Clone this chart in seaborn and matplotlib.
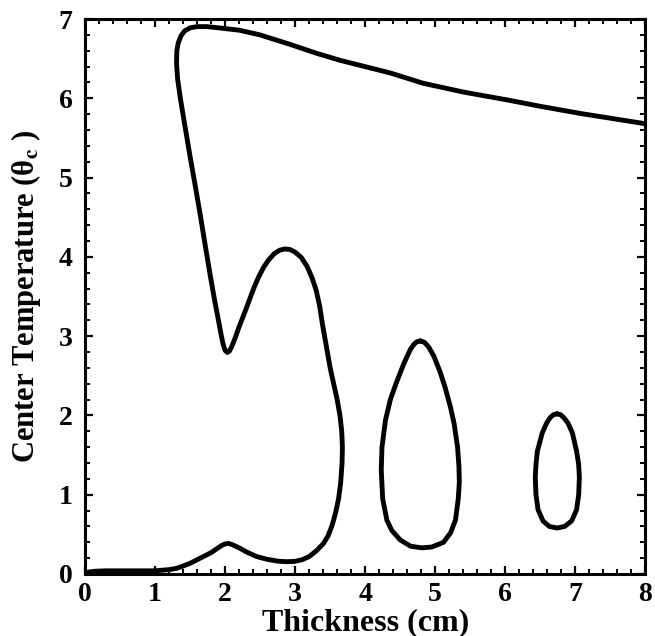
import matplotlib
matplotlib.use("Agg")
import matplotlib.pyplot as plt
from matplotlib.ticker import MultipleLocator
import seaborn as sns
import pandas as pd

# Main S-shaped branch (thickness cm, center temperature)
main_x = [0.0, 0.05, 0.15, 0.3, 0.6, 1.0, 1.2, 1.3, 1.4, 1.5, 1.6, 1.7, 1.8, 1.9, 1.95, 2.0,
          2.05, 2.1, 2.2, 2.3, 2.45, 2.6, 2.75, 2.88, 3.0, 3.1, 3.2, 3.3, 3.4, 3.47, 3.53,
          3.58, 3.62, 3.65, 3.67, 3.675, 3.665, 3.64, 3.6, 3.55, 3.5, 3.44, 3.39, 3.35, 3.3,
          3.24, 3.17, 3.09, 3.0, 2.92, 2.85, 2.78, 2.7, 2.62, 2.55, 2.48, 2.42, 2.36, 2.28,
          2.2, 2.14, 2.09, 2.06, 2.03, 2.0, 1.97, 1.94, 1.9, 1.85, 1.79, 1.72, 1.65, 1.58,
          1.5, 1.42, 1.36, 1.32, 1.305, 1.31, 1.33, 1.37, 1.42, 1.5, 1.6, 1.74, 1.9, 2.2,
          2.5, 2.93, 3.3, 3.64, 4.0, 4.36, 4.83, 5.4, 6.03, 6.5, 7.07, 7.5, 8.0]
main_y = [0.0, 0.025, 0.035, 0.04, 0.04, 0.04, 0.055, 0.07, 0.10, 0.135, 0.18, 0.225, 0.27,
          0.33, 0.36, 0.38, 0.385, 0.37, 0.33, 0.28, 0.22, 0.185, 0.162, 0.155, 0.16, 0.18,
          0.22, 0.29, 0.38, 0.48, 0.62, 0.78, 0.95, 1.15, 1.4, 1.6, 1.8, 2.0, 2.2, 2.4, 2.6,
          2.9, 3.15, 3.38, 3.58, 3.74, 3.88, 3.99, 4.06, 4.095, 4.1, 4.085, 4.04, 3.96, 3.87,
          3.75, 3.63, 3.49, 3.3, 3.12, 2.97, 2.86, 2.81, 2.795, 2.82, 2.9, 3.03, 3.22, 3.45,
          3.75, 4.12, 4.5, 4.86, 5.26, 5.68, 6.0, 6.25, 6.45, 6.6, 6.7, 6.79, 6.85, 6.89,
          6.905, 6.905, 6.89, 6.86, 6.8, 6.68, 6.57, 6.48, 6.40, 6.32, 6.19, 6.08, 5.98,
          5.90, 5.81, 5.75, 5.68]

# Isola near 4.8 cm
loop2_x = [4.79, 4.85, 4.91, 4.98, 5.07, 5.14, 5.22, 5.27, 5.32, 5.34, 5.345, 5.33, 5.29,
           5.22, 5.12, 4.95, 4.81, 4.65, 4.5, 4.38, 4.31, 4.25, 4.23, 4.24, 4.29, 4.36, 4.44,
           4.55, 4.65, 4.7, 4.74, 4.79]
loop2_y = [2.94, 2.92, 2.86, 2.75, 2.55, 2.36, 2.1, 1.9, 1.6, 1.35, 1.15, 0.95, 0.68, 0.52,
           0.40, 0.34, 0.33, 0.35, 0.43, 0.55, 0.68, 0.95, 1.31, 1.6, 1.94, 2.2, 2.4, 2.65,
           2.84, 2.9, 2.93, 2.94]

# Isola near 6.75 cm
loop3_x = [6.74, 6.79, 6.84, 6.9, 6.96, 7.02, 7.05, 7.06, 7.05, 7.02, 6.95, 6.85, 6.74, 6.63,
           6.54, 6.47, 6.44, 6.43, 6.44, 6.46, 6.53, 6.59, 6.64, 6.69, 6.74]
loop3_y = [2.02, 2.01, 1.97, 1.9, 1.78, 1.55, 1.38, 1.22, 1.0, 0.81, 0.67, 0.60, 0.58, 0.60,
           0.67, 0.81, 1.0, 1.22, 1.38, 1.55, 1.78, 1.9, 1.97, 2.01, 2.02]

x_ticks = [0, 1, 2, 3, 4, 5, 6, 7, 8]
y_ticks = [0, 1, 2, 3, 4, 5, 6, 7]

sns.set_style("ticks")
plt.rcParams["font.family"] = ["Liberation Serif", "DejaVu Serif"]
plt.rcParams["font.weight"] = "bold"
plt.rcParams["mathtext.fontset"] = "stix"
plt.rcParams["text.color"] = "black"
plt.rcParams["axes.labelcolor"] = "black"
plt.rcParams["xtick.color"] = "black"
plt.rcParams["ytick.color"] = "black"

fig = plt.figure(figsize=(6.55, 6.36), dpi=100)
ax = fig.add_axes([0.130, 0.0975, 0.855, 0.8725])

for xs, ys in [(main_x, main_y), (loop2_x, loop2_y), (loop3_x, loop3_y)]:
    df = pd.DataFrame({"x": xs, "y": ys})
    sns.lineplot(data=df, x="x", y="y", sort=False, estimator=None, color="black",
                 linewidth=3.5, ax=ax, solid_joinstyle="round", solid_capstyle="round")

ax.set_xlim(0, 8)
ax.set_ylim(0, 7)
ax.set_xticks(x_ticks)
ax.set_yticks(y_ticks)
ax.xaxis.set_minor_locator(MultipleLocator(0.2))
ax.yaxis.set_minor_locator(MultipleLocator(0.2))
ax.tick_params(which="both", direction="in", top=True, right=True, colors="black")
ax.tick_params(which="major", length=6, width=1.6, labelsize=20, pad=6)
ax.tick_params(which="minor", length=3.5, width=1.4)
ax.tick_params(axis="y", which="major", pad=9)
for lbl in ax.get_xticklabels() + ax.get_yticklabels():
    lbl.set_fontweight("bold")
    lbl.set_color("black")
for sp in ax.spines.values():
    sp.set_linewidth(2.2)
    sp.set_color("black")

ax.set_xlabel("Thickness (cm)", fontsize=23, fontweight="bold", color="black")
ax.set_ylabel("Center Temperature (θ$_{\\mathrm{c}}$ )", fontsize=22, fontweight="bold",
              color="black")
ax.xaxis.set_label_coords(0.5, -0.062)
ax.yaxis.set_label_coords(-0.076, 0.5)

fig.savefig("out.png", dpi=100)
